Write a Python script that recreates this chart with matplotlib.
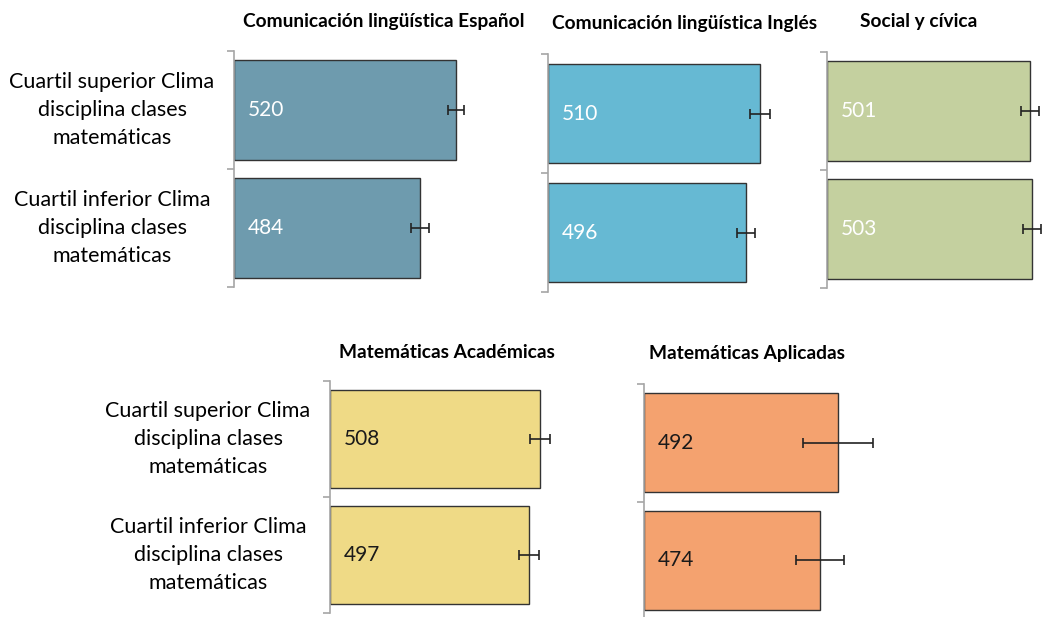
import matplotlib
matplotlib.use("Agg")
import matplotlib.pyplot as plt
from matplotlib.transforms import blended_transform_factory

plt.rcParams['font.family'] = ['Lato', 'DejaVu Sans']

# ---- data ----
categories = ["Cuartil superior Clima\ndisciplina clases\nmatemáticas",
              "Cuartil inferior Clima\ndisciplina clases\nmatemáticas"]
titles = ["Comunicación lingüística Español", "Comunicación lingüística Inglés",
          "Social y cívica", "Matemáticas Académicas", "Matemáticas Aplicadas"]
esp_values = [520, 484]
esp_errors = [8, 9]
ing_values = [510, 496]
ing_errors = [10, 9]
soc_values = [501, 503]
soc_errors = [9, 9]
acad_values = [508, 497]
acad_errors = [10, 10]
apl_values = [492, 474]
apl_errors = [35, 24]

colors = ["#6E9BAE", "#66B9D3", "#C4D09F", "#EFDA86", "#F4A26F"]
label_colors = ["white", "white", "white", "#1a1a1a", "#1a1a1a"]

W, H = 1043, 617
fig = plt.figure(figsize=(W / 100, H / 100), dpi=100)

XMIN = 300
PPU = 1.01  # pixels per unit

# (left px, top px, bottom px, xmax, title center x, title y)
panels = [
    (234, 51, 287, 560, 384, 22),
    (548, 54, 292, 560, 685, 24),
    (827, 52, 288, 513, 919, 22),
    (330, 381, 613, 560, 447, 352),
    (644, 384, 619, 560, 747, 354),
]
values_list = [esp_values, ing_values, soc_values, acad_values, apl_values]
errors_list = [esp_errors, ing_errors, soc_errors, acad_errors, apl_errors]

for k, (left, top, bottom, xmax, tcx, ty) in enumerate(panels):
    width = (xmax - XMIN) * PPU
    ax = fig.add_axes([left / W, 1 - bottom / H, width / W, (bottom - top) / H])
    vals = values_list[k]
    errs = errors_list[k]
    ypos = list(range(len(vals)))
    ax.barh(ypos, [v - XMIN for v in vals], left=XMIN, height=0.84,
            color=colors[k], edgecolor="#333333", linewidth=1.0)
    ax.errorbar(vals, ypos, xerr=errs, fmt="none", ecolor="#222222",
                elinewidth=1.2, capsize=3.5, capthick=1.2, clip_on=False)
    for y, v in zip(ypos, vals):
        ax.annotate(str(v), xy=(XMIN, y), xytext=(10, 0), textcoords="offset points",
                    va="center", ha="left", fontsize=15, color=label_colors[k])
    ax.set_xlim(XMIN, xmax)
    ax.set_ylim(len(vals) - 0.5, -0.5)
    for s in ["top", "right", "bottom"]:
        ax.spines[s].set_visible(False)
    ax.spines["left"].set_color("#A6A6A6")
    ax.spines["left"].set_linewidth(1.2)
    ax.set_xticks([])
    ax.set_yticks([])
    ax.set_yticks([-0.5, 0.5, 1.5], minor=True)
    ax.tick_params(axis="y", which="minor", length=5, color="#A6A6A6", width=1.2,
                   labelleft=False)
    fig.text(tcx / W, 1 - ty / H, titles[k], ha="center", va="center",
             fontsize=13.8, fontweight="bold", color="black")
    if k in (0, 3):
        cx = 112 if k == 0 else 208
        tr = blended_transform_factory(fig.transFigure, ax.transData)
        for y, cat in zip(ypos, categories):
            ax.text(cx / W, y, cat, transform=tr, ha="center", va="center",
                    multialignment="center", fontsize=15.5, color="black",
                    linespacing=1.48)

fig.savefig("out.png", dpi=100)
